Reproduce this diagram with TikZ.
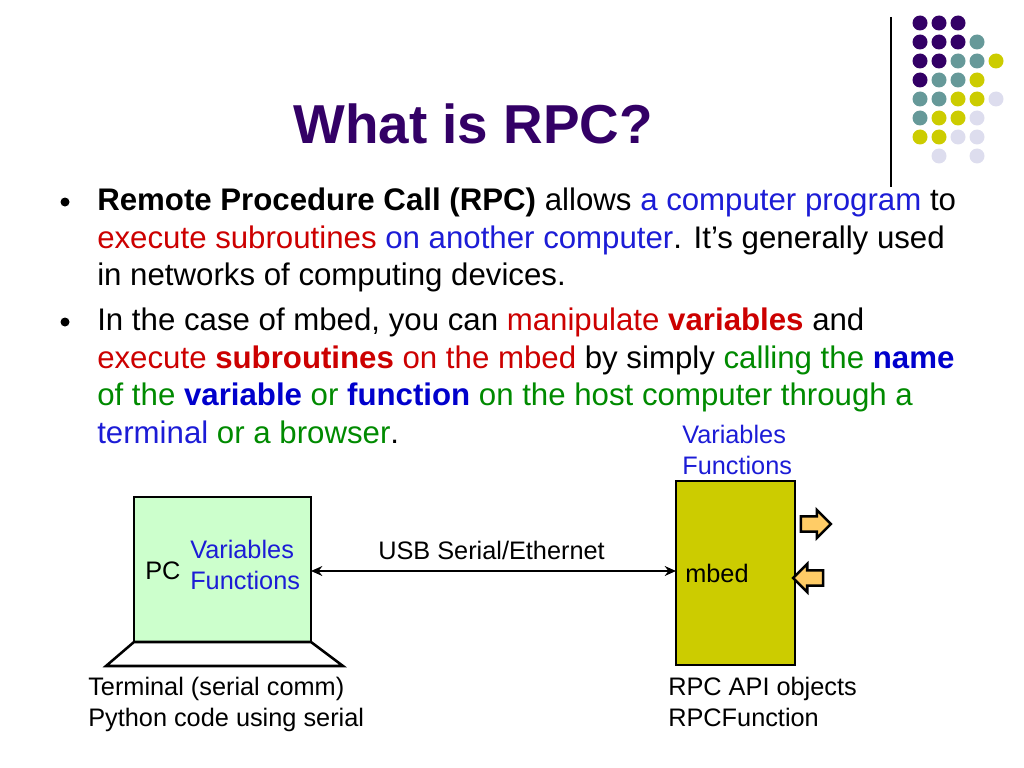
\documentclass[tikz,border=0pt]{standalone}
\usepackage{fontspec}
\setmainfont{Liberation Sans}
\usetikzlibrary{shapes.arrows,arrows.meta}
\definecolor{dpurple}{HTML}{330066}
\definecolor{dteal}{HTML}{669999}
\definecolor{dyel}{HTML}{CCCC00}
\definecolor{dlil}{HTML}{DDDDEE}
\definecolor{tblue}{HTML}{1C1CD6}
\definecolor{tred}{HTML}{CC0000}
\definecolor{tgreen}{HTML}{008A00}
\definecolor{nblue}{HTML}{0000CC}
\definecolor{pcgreen}{HTML}{CCFFCC}
\definecolor{orng}{HTML}{FFCC66}
\tikzset{
  line/.style={anchor=base west,inner sep=0pt,font=\fontsize{22.2}{26}\selectfont},
  small/.style={anchor=base west,inner sep=0pt,font=\fontsize{18}{22}\selectfont},
  blk/.style={single arrow,draw=black,line width=1.8pt,fill=orng,minimum height=0.75cm,
    single arrow head extend=0.16cm,single arrow head indent=0cm,
    inner sep=0pt,text height=0.32cm,text depth=0pt,text width=0pt}
}
\begin{document}
\begin{tikzpicture}[x=0.025cm,y=-0.025cm]
\useasboundingbox (0,0) rectangle (1024,768);

% title
\node[font=\fontsize{39}{44}\selectfont\bfseries,text=dpurple] (title) at (473,124) {What is RPC?};

% dots
\draw[line width=0.8pt] (891,17) -- (891,187);
\foreach \row/\cols in {1/{dpurple,dpurple,dpurple},2/{dpurple,dpurple,dpurple,dteal},
  3/{dpurple,dpurple,dteal,dteal,dyel},4/{dpurple,dteal,dteal,dyel},
  5/{dteal,dteal,dyel,dyel,dlil},6/{dteal,dyel,dyel,dlil},7/{dyel,dyel,dlil,dlil},
  8/{white,dlil,white,dlil}}{
  \foreach \c [count=\i] in \cols
    \fill[\c] ({901+19*\i},{4+19*\row}) circle (7.5);
}

% bullets
\fill (65,202) circle (4.5);
\fill (65,322) circle (4.5);

% text
\node[line] (l1) at (97,210) {\textbf{Remote Procedure Call (RPC)} allows \textcolor{tblue}{a computer program} to};
\node[line] (l2) at (97,248) {\textcolor{tred}{execute subroutines} \textcolor{tblue}{on another computer}. It’s generally used};
\node[line] (l3) at (97,285) {in networks of computing devices.};
\node[line] (l4) at (97,330) {In the case of mbed, you can \textcolor{tred}{manipulate \textbf{variables}} and};
\node[line] (l5) at (97,368) {\textcolor{tred}{execute \textbf{subroutines} on the mbed} by simply \textcolor{tgreen}{calling the} \textcolor{nblue}{\textbf{name}}};
\node[line] (l6) at (97,405) {\textcolor{tgreen}{of the} \textcolor{nblue}{\textbf{variable}} \textcolor{tgreen}{or} \textcolor{nblue}{\textbf{function}} \textcolor{tgreen}{on the host computer through a}};
\node[line] (l7) at (97,443) {\textcolor{tblue}{terminal} \textcolor{tgreen}{or a browser}.};

% mbed
\node[small,text=tblue] (mv) at (682,443) {Variables};
\node[small,text=tblue] (mf) at (682,474) {Functions};
\draw[line width=1.8pt,fill=dyel] (676,481) rectangle (795,665);
\coordinate (mbedw) at (676,571);
\node[small] (mbed) at (685,582) {mbed};
\node[blk] (aout) at (812,524) {};
\node[blk,shape border rotate=180] (ain) at (812,578) {};

% PC
\draw[line width=1.8pt,fill=pcgreen] (134,497) rectangle (311,642);
\draw[line width=1.8pt,fill=white] (134,642) -- (311,642) -- (343,666) -- (106,666) -- cycle;
\coordinate (pce) at (311,571);
\node[small] (pc) at (145,579) {PC};
\node[small,text=tblue] (pv) at (190,558) {Variables};
\node[small,text=tblue] (pf) at (190,589) {Functions};

% link
\draw[{Stealth[length=8pt,width=7pt]}-{Stealth[length=8pt,width=7pt]},line width=1.5pt] (pce) -- (mbedw);
\node[small] (usb) at (378,559) {USB Serial/Ethernet};

% captions
\node[small] (t1) at (88,695) {Terminal (serial comm)};
\node[small] (t2) at (88,726) {Python code using serial};
\node[small] (r1) at (668,695) {RPC API objects};
\node[small] (r2) at (668,726) {RPCFunction};
\end{tikzpicture}
\end{document}
